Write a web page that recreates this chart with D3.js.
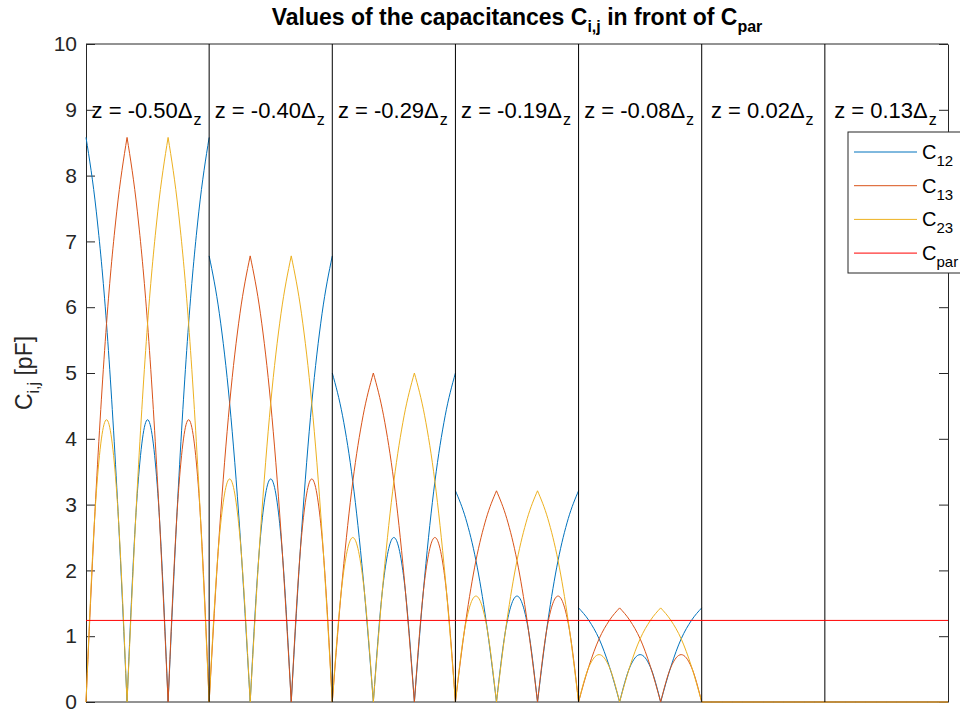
<!DOCTYPE html>
<html>
<head>
<meta charset="utf-8">
<script src="https://cdn.jsdelivr.net/npm/d3@7"></script>
<style>
  body { margin: 0; background: #fff; }
  svg { font-family: "Liberation Sans", Arial, Helvetica, sans-serif; }
</style>
</head>
<body>
<div id="chart"></div>
<script>
// z position of each slice (in units of Delta_z)
const zLabels = ['-0.50', '-0.40', '-0.29', '-0.19', '-0.08', '0.02', '0.13'];

// 13 samples across each panel (0, 1/12, ..., 12/12), values in pF
const c12 = [
    [8.58, 7.46, 5.75, 3.26, 0, 3.17, 4.29, 3.17, 0, 3.26, 5.75, 7.46, 8.58],
    [6.78, 5.90, 4.54, 2.58, 0, 2.51, 3.39, 2.51, 0, 2.58, 4.54, 5.90, 6.78],
    [5.00, 4.35, 3.35, 1.90, 0, 1.85, 2.50, 1.85, 0, 1.90, 3.35, 4.35, 5.00],
    [3.21, 2.79, 2.15, 1.22, 0, 1.19, 1.61, 1.19, 0, 1.22, 2.15, 2.79, 3.21],
    [1.43, 1.24, 0.96, 0.54, 0, 0.53, 0.72, 0.53, 0, 0.54, 0.96, 1.24, 1.43],
    [0, 0, 0, 0, 0, 0, 0, 0, 0, 0, 0, 0, 0],
    [0, 0, 0, 0, 0, 0, 0, 0, 0, 0, 0, 0, 0]
];
const c13 = [
    [0, 3.26, 5.75, 7.46, 8.58, 7.46, 5.75, 3.26, 0, 3.17, 4.29, 3.17, 0],
    [0, 2.58, 4.54, 5.90, 6.78, 5.90, 4.54, 2.58, 0, 2.51, 3.39, 2.51, 0],
    [0, 1.90, 3.35, 4.35, 5.00, 4.35, 3.35, 1.90, 0, 1.85, 2.50, 1.85, 0],
    [0, 1.22, 2.15, 2.79, 3.21, 2.79, 2.15, 1.22, 0, 1.19, 1.61, 1.19, 0],
    [0, 0.54, 0.96, 1.24, 1.43, 1.24, 0.96, 0.54, 0, 0.53, 0.72, 0.53, 0],
    [0, 0, 0, 0, 0, 0, 0, 0, 0, 0, 0, 0, 0],
    [0, 0, 0, 0, 0, 0, 0, 0, 0, 0, 0, 0, 0]
];
const c23 = [
    [0, 3.17, 4.29, 3.17, 0, 3.26, 5.75, 7.46, 8.58, 7.46, 5.75, 3.26, 0],
    [0, 2.51, 3.39, 2.51, 0, 2.58, 4.54, 5.90, 6.78, 5.90, 4.54, 2.58, 0],
    [0, 1.85, 2.50, 1.85, 0, 1.90, 3.35, 4.35, 5.00, 4.35, 3.35, 1.90, 0],
    [0, 1.19, 1.61, 1.19, 0, 1.22, 2.15, 2.79, 3.21, 2.79, 2.15, 1.22, 0],
    [0, 0.53, 0.72, 0.53, 0, 0.54, 0.96, 1.24, 1.43, 1.24, 0.96, 0.54, 0],
    [0, 0, 0, 0, 0, 0, 0, 0, 0, 0, 0, 0, 0],
    [0, 0, 0, 0, 0, 0, 0, 0, 0, 0, 0, 0, 0]
];
const cPar = 1.24;
const yTicks = [0, 1, 2, 3, 4, 5, 6, 7, 8, 9, 10];

const seriesNames = ['12', '13', '23', 'par'];
const seriesColors = ['#0072BD', '#D95319', '#EDB120', '#FF0000'];

const width = 960, height = 716;
const margin = { top: 44, right: 12, bottom: 14, left: 86 };
const axisColor = '#262626';

const svg = d3.select('#chart').append('svg')
    .attr('width', width)
    .attr('height', height);

const x = d3.scaleLinear().domain([0, zLabels.length]).range([margin.left, width - margin.right]);
const y = d3.scaleLinear().domain([0, 10]).range([height - margin.bottom, margin.top]);

// box + ticks
const yAxisL = d3.axisLeft(y).tickValues(yTicks).tickSizeInner(-9).tickSizeOuter(0).tickPadding(9);
const yAxisR = d3.axisRight(y).tickValues(yTicks).tickSizeInner(-9).tickSizeOuter(0).tickFormat('');

const gl = svg.append('g').attr('transform', `translate(${x(0)},0)`).call(yAxisL);
const gr = svg.append('g').attr('transform', `translate(${x(7)},0)`).call(yAxisR);
[gl, gr].forEach(g => {
    g.selectAll('path, line').attr('stroke', axisColor).attr('stroke-width', 1);
    g.selectAll('text').attr('fill', axisColor).attr('font-size', '21px');
});
svg.append('line').attr('x1', x(0)).attr('x2', x(7)).attr('y1', y(10)).attr('y2', y(10)).attr('stroke', axisColor);
svg.append('line').attr('x1', x(0)).attr('x2', x(7)).attr('y1', y(0)).attr('y2', y(0)).attr('stroke', axisColor);

// curves: each panel is split in three pieces at the cusps (k = 0, 4, 8, 12)
const line = d3.line()
    .x(d => x(d[0]))
    .y(d => y(d[1]))
    .curve(d3.curveMonotoneX);

[c12, c13, c23].forEach((series, si) => {
    series.forEach((vals, p) => {
        [0, 4, 8].forEach(start => {
            const pts = vals.slice(start, start + 5).map((v, i) => [p + (start + i) / 12, v]);
            svg.append('path')
                .attr('d', line(pts))
                .attr('fill', 'none')
                .attr('stroke', seriesColors[si])
                .attr('stroke-width', 1);
        });
    });
});

// panel separators
d3.range(1, zLabels.length).forEach(i => {
    svg.append('line')
        .attr('x1', x(i)).attr('x2', x(i))
        .attr('y1', y(0)).attr('y2', y(10))
        .attr('stroke', '#000')
        .attr('stroke-width', 1);
});

// parasitic capacitance
svg.append('line')
    .attr('x1', x(0)).attr('x2', x(7))
    .attr('y1', y(cPar)).attr('y2', y(cPar))
    .attr('stroke', seriesColors[3])
    .attr('stroke-width', 1);

// panel labels
zLabels.forEach((z, i) => {
    const t = svg.append('text')
        .attr('x', x(i + 0.5) - 1)
        .attr('y', y(9))
        .attr('dy', '0.35em')
        .attr('text-anchor', 'middle')
        .attr('font-size', '22px')
        .attr('fill', '#000');
    t.append('tspan').text(`z = ${z}\u0394`);
    t.append('tspan').attr('dx', 1).attr('dy', 7).attr('font-size', '16px').text('z');
});

// title
const title = svg.append('text')
    .attr('x', (x(0) + x(7)) / 2)
    .attr('y', 25)
    .attr('text-anchor', 'middle')
    .attr('font-size', '23px')
    .attr('font-weight', 'bold')
    .attr('fill', '#000');
title.append('tspan').text('Values of the capacitances C');
title.append('tspan').attr('dy', 7).attr('font-size', '16px').text('i,j');
title.append('tspan').attr('dy', -7).text(' in front of C');
title.append('tspan').attr('dy', 7).attr('font-size', '16px').text('par');

// y label
const yl = svg.append('text')
    .attr('transform', `translate(32,${(y(0) + y(10)) / 2}) rotate(-90)`)
    .attr('text-anchor', 'middle')
    .attr('font-size', '23px')
    .attr('fill', axisColor);
yl.append('tspan').text('C');
yl.append('tspan').attr('dy', 7).attr('font-size', '16px').text('i,j');
yl.append('tspan').attr('dy', -7).text(' [pF]');

// legend
const legend = svg.append('g').attr('transform', 'translate(848,132)');
legend.append('rect')
    .attr('width', 130).attr('height', 141)
    .attr('fill', '#fff')
    .attr('stroke', axisColor)
    .attr('stroke-width', 1);
seriesNames.forEach((name, i) => {
    const ly = 20 + i * 33.7;
    legend.append('line')
        .attr('x1', 6).attr('x2', 69)
        .attr('y1', ly).attr('y2', ly)
        .attr('stroke', seriesColors[i])
        .attr('stroke-width', 1);
    const t = legend.append('text')
        .attr('x', 74).attr('y', ly)
        .attr('dy', '0.35em')
        .attr('font-size', '20px')
        .attr('fill', '#000');
    t.append('tspan').text('C');
    t.append('tspan').attr('dy', 7).attr('font-size', '15px').text(name);
});
</script>
</body>
</html>
